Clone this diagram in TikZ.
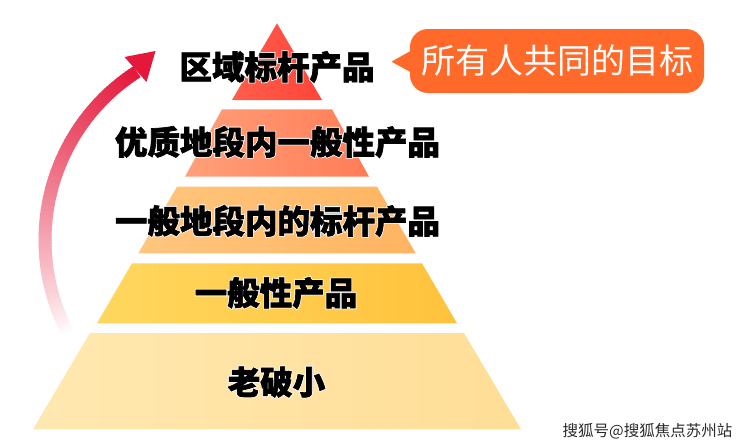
\documentclass[tikz,border=0pt]{standalone}
\usepackage{fontspec}
\setmainfont{Noto Sans CJK SC}
\newfontfamily\heavyfont{Noto Sans CJK SC}[BoldFeatures={FakeBold=2}]
\newfontfamily\halofont{Noto Sans CJK SC}[BoldFeatures={FakeBold=7}]
\usetikzlibrary{calc}
\definecolor{cLa}{HTML}{FF5E4C}\definecolor{cLb}{HTML}{FF4538}
\definecolor{cLLa}{HTML}{FFA07A}\definecolor{cLLb}{HTML}{FF7C56}
\definecolor{cLLLa}{HTML}{FFC67E}\definecolor{cLLLb}{HTML}{FFB460}
\definecolor{cLVa}{HTML}{FFD75E}\definecolor{cLVb}{HTML}{FFC23C}
\definecolor{cVa}{HTML}{FFE8B0}\definecolor{cVb}{HTML}{FFDE96}
\definecolor{calloutorange}{HTML}{FF6A2A}
\definecolor{arrowred}{HTML}{E5173A}
\definecolor{wmgray}{HTML}{2A2A2A}
\tikzset{
  lab/.style={font=\heavyfont\bfseries\fontsize{32.5}{32.5}\selectfont, text=black, inner sep=0pt},
  halo/.style={font=\halofont\bfseries\fontsize{32.5}{32.5}\selectfont, text=white, inner sep=0pt},
  callout/.style={fill=calloutorange, rounded corners=18pt, minimum width=294pt, minimum height=64pt, inner sep=0pt,
    text=white, font=\fontsize{34}{34}\selectfont},
  wm/.style={font=\fontsize{15.5}{15.5}\selectfont, text=wmgray, inner sep=0pt},
}
\newcommand\layerlabel[3]{%
  \node[halo] (#1h) at (#2) {#3};
  \node[lab] (#1) at (#2) {#3};}
\begin{document}
\begin{tikzpicture}[x=1pt,y=-1pt]
\useasboundingbox (0,0) rectangle (740,447);
% pyramid layers
\shade[left color=cLa, right color=cLb] (277,23.3) -- (322,100) -- (232,100) -- cycle;
\shade[left color=cLLa, right color=cLLb] (222,109.3) -- (332,109.3) -- (369,176.7) -- (185,176.7) -- cycle;
\shade[left color=cLLLa, right color=cLLLb] (177,186.7) -- (377,186.7) -- (415.7,253.3) -- (138.3,253.3) -- cycle;
\shade[left color=cLVa, right color=cLVb] (132,263.3) -- (422,263.3) -- (457,323.3) -- (97,323.3) -- cycle;
\shade[left color=cVa, right color=cVb] (90,333) -- (464,333) -- (521,429.3) -- (33,429.3) -- cycle;
% rising arrow
\foreach \i in {0,...,89}{
  \pgfmathsetmacro\aa{152.4+\i*84.9/90}
  \pgfmathsetmacro\ab{152.4+(\i+1.3)*84.9/90}
  \pgfmathsetmacro\pp{100*((\i+0.5)/90)^0.85}
  \pgfmathsetmacro\xa{245+200*cos(\aa)}
  \pgfmathsetmacro\ya{240+200*sin(\aa)}
  \pgfmathsetmacro\xb{245+200*cos(min(\ab,237.3))}
  \pgfmathsetmacro\yb{240+200*sin(min(\ab,237.3))}
  \draw[line width=13pt, draw=arrowred!\pp!white] (\xa,\ya) -- (\xb,\yb);
}
\coordinate (tip) at (155.5,51);
\fill[arrowred] (tip) -- (124.5,57) -- (146.5,82) -- cycle;
% layer labels
\layerlabel{t1}{277,67}{区域标杆产品}
\layerlabel{t2}{277.5,142}{优质地段内一般性产品}
\layerlabel{t3}{277.5,221}{一般地段内的标杆产品}
\layerlabel{t4}{276,293}{一般性产品}
\layerlabel{t5}{276.5,382}{老破小}
% callout
\node[callout] (goal) at (557,61) {所有人共同的目标};
\fill[calloutorange] ($(goal.west)+(6,-13)$) -- (391.5,61.7) -- ($(goal.west)+(6,14)$) -- cycle;
% watermark
\node[wm] (mark) at (647.5,431) {搜狐号@搜狐焦点苏州站};
\end{tikzpicture}
\end{document}
